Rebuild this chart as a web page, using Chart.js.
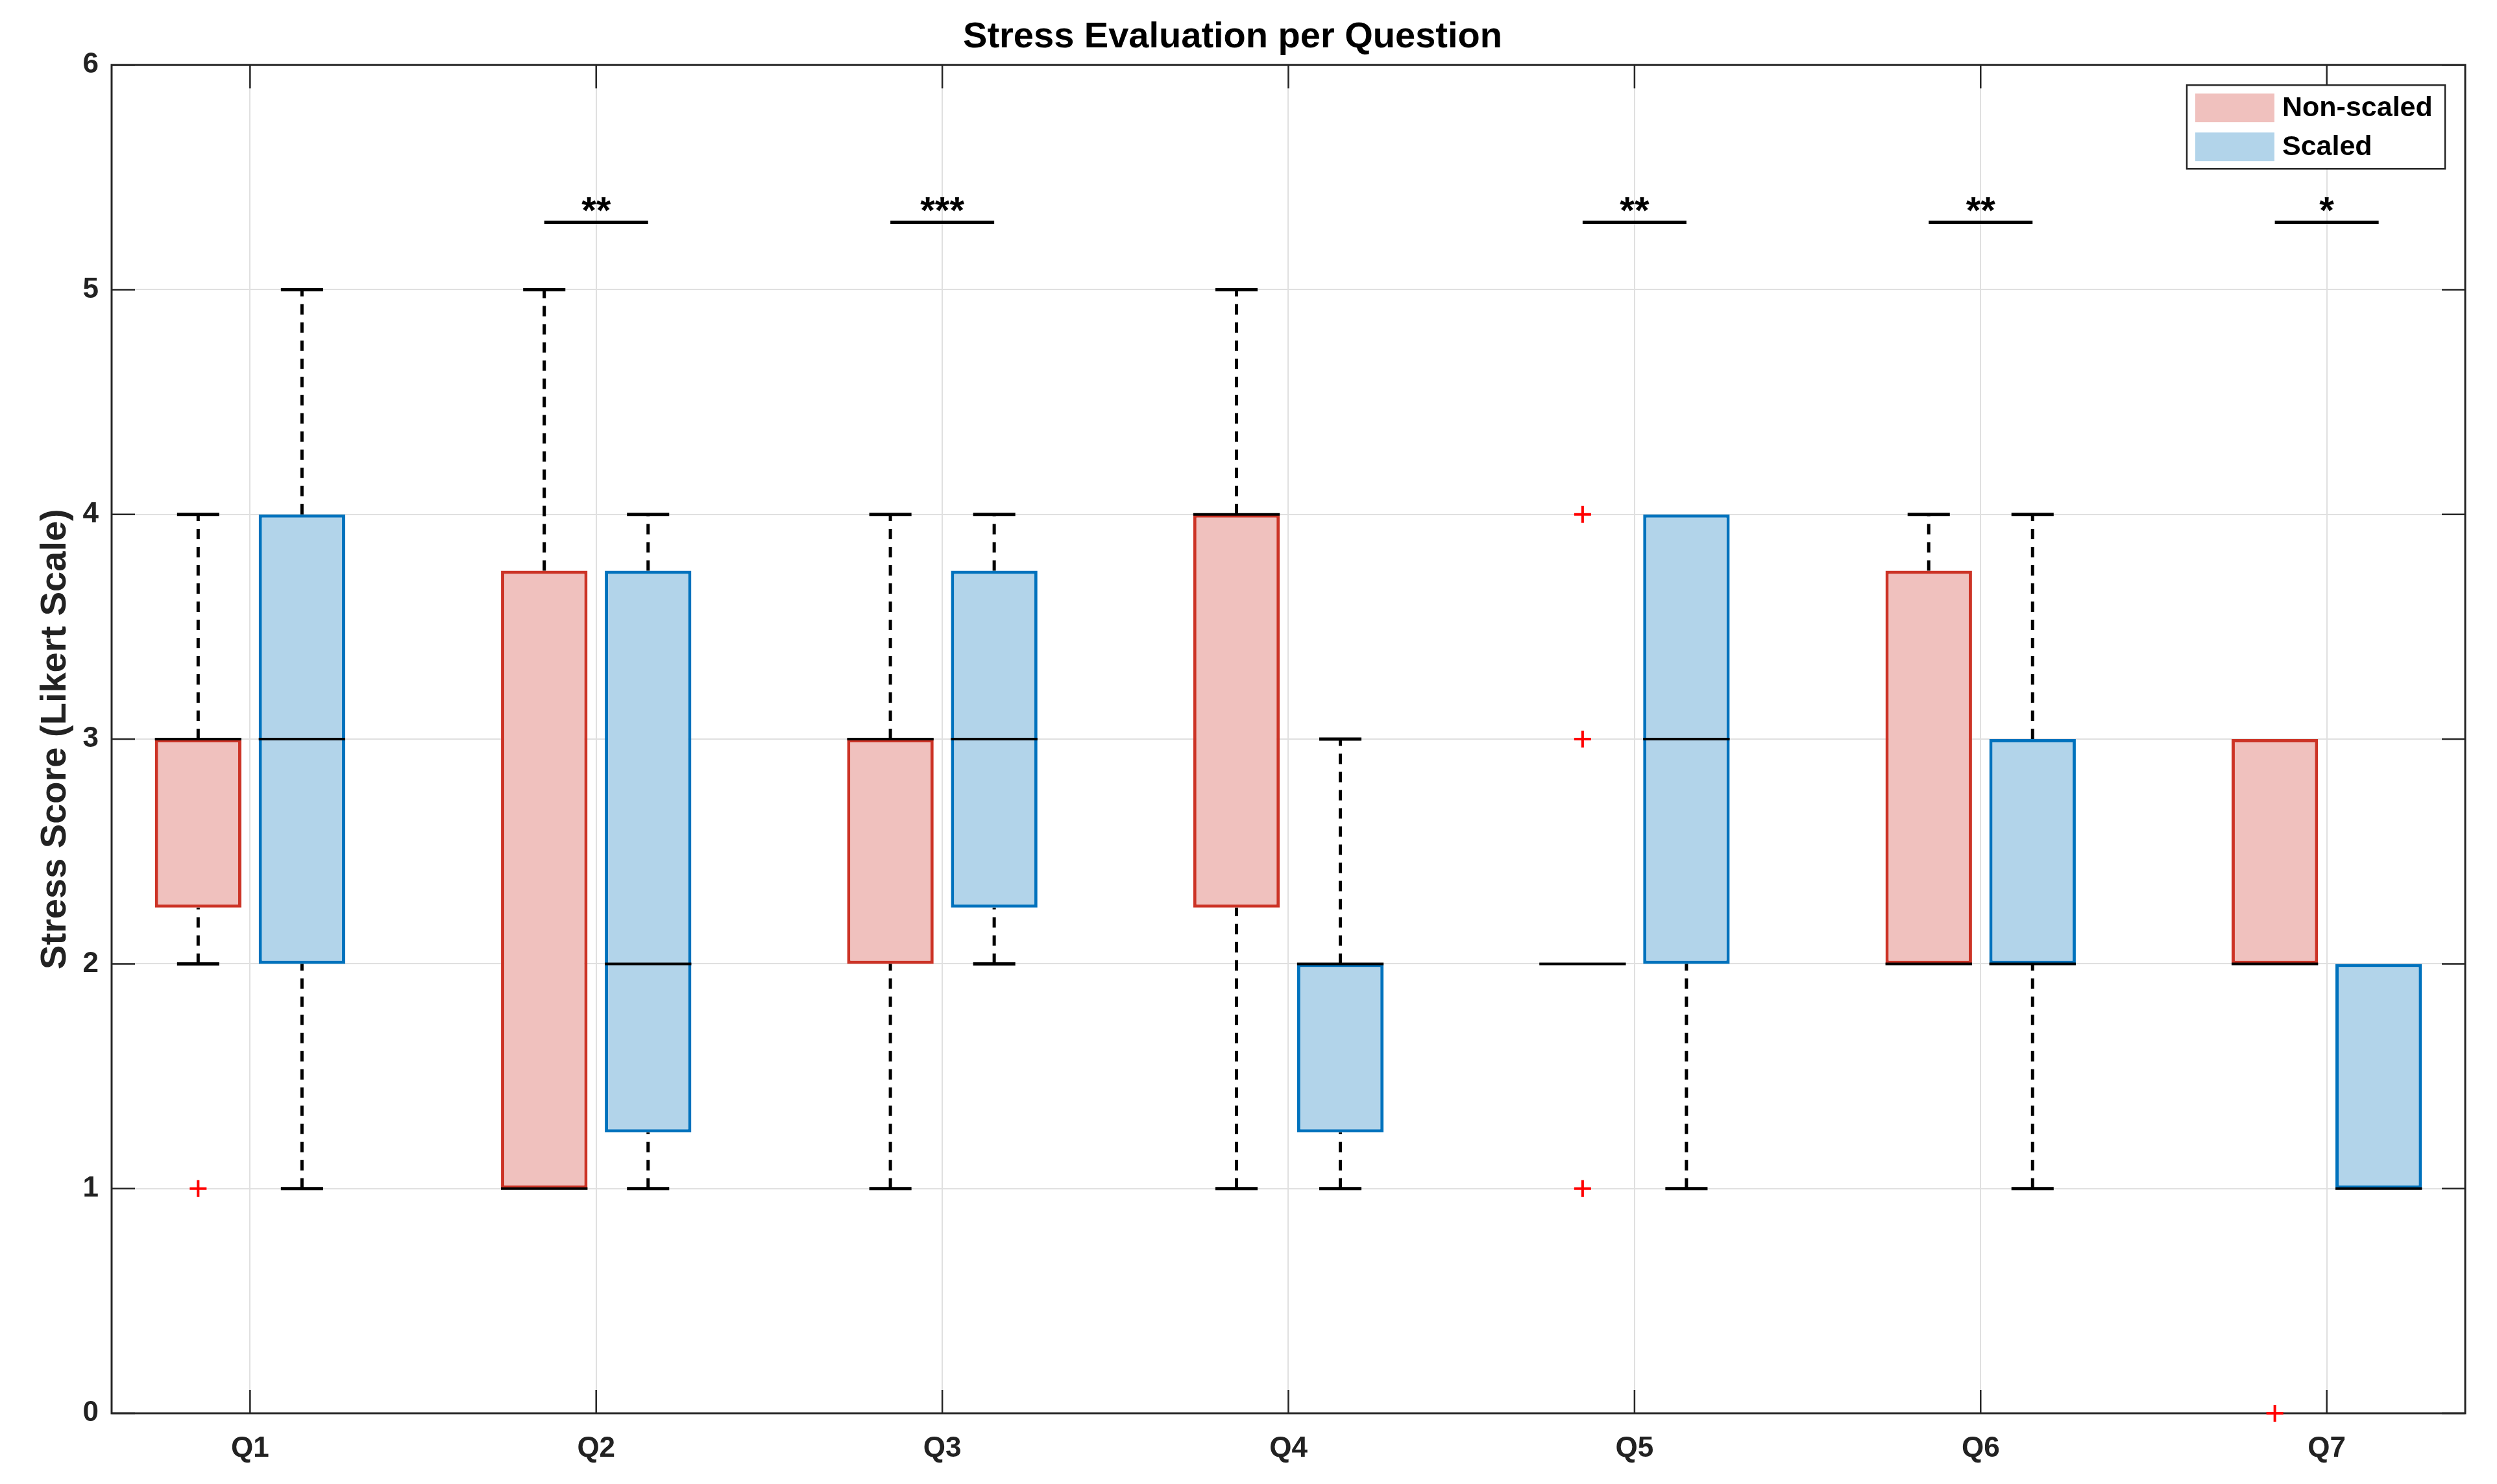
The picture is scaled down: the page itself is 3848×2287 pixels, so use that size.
<!DOCTYPE html>
<html>
<head>
<meta charset="utf-8">
<title>Stress Evaluation per Question</title>
<script src="https://cdn.jsdelivr.net/npm/chart.js@4.4.1/dist/chart.umd.min.js"></script>
<style>
  body { margin: 0; background: #fff; }
  #wrap { width: 3848px; height: 2287px; }
</style>
</head>
<body>
<div id="wrap"><canvas id="stressChart"></canvas></div>
<script>
const questions = ['Q1', 'Q2', 'Q3', 'Q4', 'Q5', 'Q6', 'Q7'];

// Non-scaled: whisker low, 25th pct, median, 75th pct, whisker high
const nsLow  = [2, 1, 1, 1, 2, 2, 2];
const nsQ1   = [2.25, 1, 2, 2.25, 2, 2, 2];
const nsMed  = [3, 1, 3, 4, 2, 2, 2];
const nsQ3   = [3, 3.75, 3, 4, 2, 3.75, 3];
const nsHigh = [4, 5, 4, 5, 2, 4, 3];
const nsOutliers = [[1], [], [], [], [4, 3, 1], [], [0]];

// Scaled
const sLow  = [1, 1, 2, 1, 1, 1, 1];
const sQ1   = [2, 1.25, 2.25, 1.25, 2, 2, 1];
const sMed  = [3, 2, 3, 2, 3, 2, 1];
const sQ3   = [4, 3.75, 3.75, 2, 4, 3, 2];
const sHigh = [5, 4, 4, 3, 4, 4, 2];
const sOutliers = [[], [], [], [], [], [], []];

// significance markers
const sigQuestions = [2, 3, 5, 6, 7];
const sigStars = ['**', '***', '**', '**', '*'];
const sigLevel = 5.3;

const yTicks = [0, 1, 2, 3, 4, 5, 6];

const nsEdge = 'rgb(204,51,38)';
const nsFill = 'rgb(240,193,190)';
const sEdge = 'rgb(0,114,189)';
const sFill = 'rgb(178,212,234)';
const axisColor = '#262626';
const gridColor = '#e0e0e0';

const boxOffset = 0.15;  // distance of each box from the question position
const boxWidth = 0.25;
const capHalf = 0.061;

Chart.defaults.font.family = '"Liberation Sans", Arial, Helvetica, sans-serif';
Chart.defaults.font.weight = 'bold';
Chart.defaults.color = '#111';

function segs(list) {
  const pts = [];
  list.forEach(s => {
    pts.push({x: s[0], y: s[1]}, {x: s[2], y: s[3]}, {x: s[2], y: null});
  });
  return pts;
}

const groups = [
  {low: nsLow, q1: nsQ1, med: nsMed, q3: nsQ3, high: nsHigh, out: nsOutliers, shift: -boxOffset},
  {low: sLow, q1: sQ1, med: sMed, q3: sQ3, high: sHigh, out: sOutliers, shift: boxOffset}
];

const whiskers = [], caps = [], medians = [], outliers = [];
questions.forEach((q, i) => {
  groups.forEach(g => {
    const c = i + 1 + g.shift;
    if (g.low[i] < g.q1[i]) {
      whiskers.push([c, g.low[i], c, g.q1[i]]);
      caps.push([c - capHalf, g.low[i], c + capHalf, g.low[i]]);
    }
    if (g.high[i] > g.q3[i]) {
      whiskers.push([c, g.q3[i], c, g.high[i]]);
      caps.push([c - capHalf, g.high[i], c + capHalf, g.high[i]]);
    }
    medians.push([c - boxWidth / 2, g.med[i], c + boxWidth / 2, g.med[i]]);
    g.out[i].forEach(v => outliers.push({x: c, y: v}));
  });
});

const sigLines = sigQuestions.map(q => [q - boxOffset, sigLevel, q + boxOffset, sigLevel]);

// frame + inward ticks under the data, stars and legend on top
const decorPlugin = {
  id: 'decor',
  beforeDatasetsDraw(chart) {
    const {ctx, chartArea: a, scales: {x, y}} = chart;
    ctx.save();
    ctx.strokeStyle = axisColor;
    ctx.lineWidth = 2.5;
    const tl = 36;
    ctx.beginPath();
    questions.forEach((q, i) => {
      const px = x.getPixelForValue(i + 1);
      ctx.moveTo(px, a.bottom); ctx.lineTo(px, a.bottom - tl);
      ctx.moveTo(px, a.top); ctx.lineTo(px, a.top + tl);
    });
    yTicks.forEach(v => {
      const py = y.getPixelForValue(v);
      ctx.moveTo(a.left, py); ctx.lineTo(a.left + tl, py);
      ctx.moveTo(a.right, py); ctx.lineTo(a.right - tl, py);
    });
    ctx.stroke();
    ctx.lineWidth = 3;
    ctx.strokeRect(a.left, a.top, a.right - a.left, a.bottom - a.top);
    ctx.restore();
  },
  afterDatasetsDraw(chart) {
    const {ctx, chartArea: a, scales: {x, y}} = chart;
    ctx.save();
    // significance stars
    ctx.fillStyle = '#000';
    ctx.font = 'bold 58px "Liberation Sans", Arial, sans-serif';
    ctx.textAlign = 'center';
    ctx.textBaseline = 'middle';
    sigQuestions.forEach((q, i) => {
      ctx.fillText(sigStars[i], x.getPixelForValue(q), y.getPixelForValue(sigLevel) - 15);
    });

    // legend box
    const items = chart.data.datasets.slice(0, 2);
    const bw = 398, bh = 129;
    const bx = a.right - 31 - bw, by = a.top + 31;
    ctx.fillStyle = '#fff';
    ctx.fillRect(bx, by, bw, bh);
    ctx.strokeStyle = axisColor;
    ctx.lineWidth = 2.5;
    ctx.strokeRect(bx, by, bw, bh);
    ctx.font = 'bold 43px "Liberation Sans", Arial, sans-serif';
    ctx.textAlign = 'left';
    items.forEach((ds, i) => {
      const sy = by + 13 + i * 60;
      ctx.fillStyle = ds.backgroundColor;
      ctx.fillRect(bx + 13, sy, 122, 44);
      ctx.fillStyle = '#000';
      ctx.fillText(ds.label, bx + 147, sy + 23);
    });
    ctx.restore();
  }
};

const ctx = document.getElementById('stressChart').getContext('2d');
new Chart(ctx, {
  type: 'bar',
  data: {
    datasets: [
      {
        label: 'Non-scaled',
        data: questions.map((q, i) => ({x: i + 1, y: [nsQ1[i], nsQ3[i]]})),
        backgroundColor: nsFill,
        borderColor: nsEdge,
        borderWidth: 5,
        borderSkipped: false,
        categoryPercentage: 4 * boxOffset,
        barPercentage: boxWidth / (2 * boxOffset),
        order: 6
      },
      {
        label: 'Scaled',
        data: questions.map((q, i) => ({x: i + 1, y: [sQ1[i], sQ3[i]]})),
        backgroundColor: sFill,
        borderColor: sEdge,
        borderWidth: 5,
        borderSkipped: false,
        categoryPercentage: 4 * boxOffset,
        barPercentage: boxWidth / (2 * boxOffset),
        order: 6
      },
      {
        type: 'line', label: 'whiskers', data: segs(whiskers),
        borderColor: '#000', borderWidth: 5, borderDash: [16, 12],
        pointRadius: 0, fill: false, order: 5
      },
      {
        type: 'line', label: 'caps', data: segs(caps),
        borderColor: '#000', borderWidth: 5, pointRadius: 0, fill: false, order: 4
      },
      {
        type: 'line', label: 'medians', data: segs(medians),
        borderColor: '#000', borderWidth: 4, pointRadius: 0, fill: false, order: 3
      },
      {
        type: 'scatter', label: 'outliers', data: outliers,
        pointStyle: 'cross', pointRadius: 13, borderColor: '#ff0000',
        borderWidth: 4, clip: false, order: 2
      },
      {
        type: 'line', label: 'significance', data: segs(sigLines),
        borderColor: '#000', borderWidth: 5, pointRadius: 0, fill: false, order: 1
      }
    ]
  },
  options: {
    responsive: true,
    maintainAspectRatio: false,
    devicePixelRatio: 1,
    animation: false,
    layout: { padding: { left: 0, right: 49, top: 0, bottom: 0 } },
    plugins: {
      legend: { display: false },
      tooltip: { enabled: false },
      title: {
        display: true,
        text: 'Stress Evaluation per Question',
        color: '#000',
        font: { size: 56, weight: 'bold' },
        padding: { top: 24, bottom: 9 }
      }
    },
    scales: {
      x: {
        type: 'linear',
        min: 0.6,
        max: 7.4,
        offset: false,
        afterBuildTicks: s => { s.ticks = questions.map((q, i) => ({value: i + 1})); },
        afterFit: s => { s.height = 109; },
        ticks: {
          callback: v => questions[v - 1],
          font: { size: 44, weight: 'bold' },
          color: '#222',
          padding: 28,
          maxRotation: 0
        },
        grid: { color: gridColor, lineWidth: 2, drawTicks: false, offset: false },
        border: { display: false }
      },
      y: {
        min: 0,
        max: 6,
        afterBuildTicks: s => { s.ticks = yTicks.map(v => ({value: v})); },
        afterFit: s => { s.width = 172; },
        ticks: {
          font: { size: 44, weight: 'bold' },
          color: '#222',
          padding: 20
        },
        grid: { color: gridColor, lineWidth: 2, drawTicks: false },
        border: { display: false },
        title: {
          display: true,
          text: 'Stress Score (Likert Scale)',
          color: '#222',
          font: { size: 56, weight: 'bold' },
          padding: { top: 52, bottom: 0 }
        }
      }
    }
  },
  plugins: [decorPlugin]
});
</script>
</body>
</html>
